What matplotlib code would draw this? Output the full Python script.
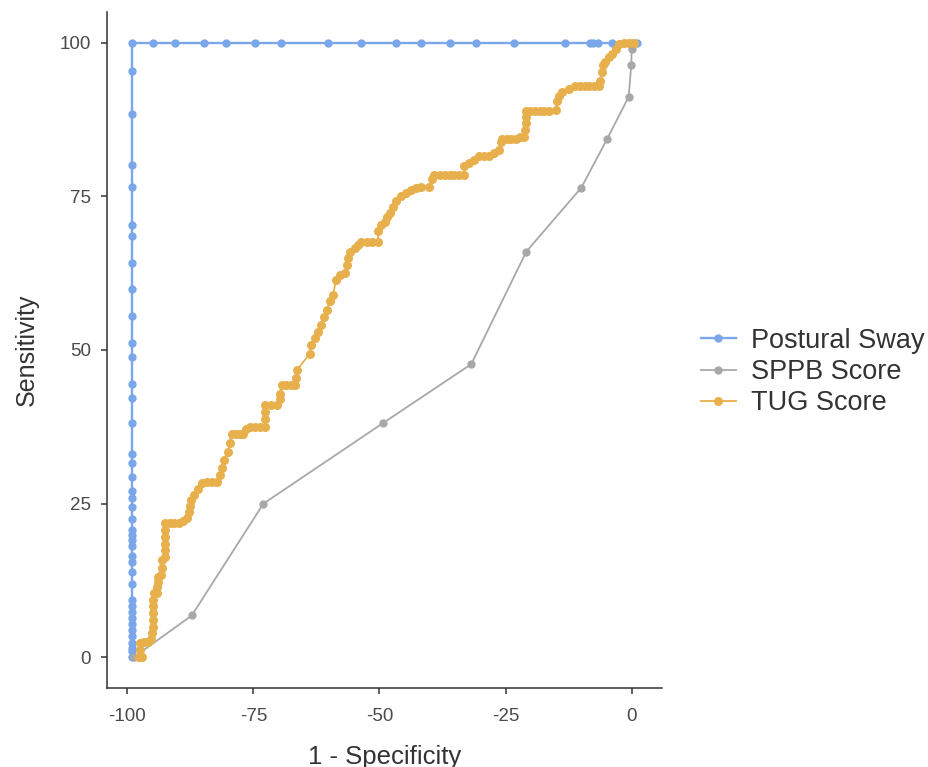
import matplotlib
matplotlib.use('Agg')
import matplotlib.pyplot as plt

# Postural Sway: vertical run at x=-99, then along the top
sway_x = [-99.0] * 41 + [-94.8, -90.5, -84.8, -80.5, -74.7, -69.6, -60.3, -53.6, -46.8,
                         -41.8, -36.0, -30.9, -23.3, -13.3, -8.3, -7.6, -6.6, -4.0, 1.0]
sway_y = [0.0, 1.0, 1.5, 2.4, 3.4, 4.4, 5.4, 6.4, 7.3, 8.3, 9.3, 11.9, 13.8, 15.5, 16.4,
          18.1, 19.1, 19.9, 20.7, 22.5, 24.4, 25.9, 27.0, 29.3, 31.6, 33.1, 38.1, 42.2,
          44.5, 48.9, 51.1, 55.5, 59.9, 64.2, 68.6, 70.4, 76.5, 80.1, 88.4, 95.4, 100.0] + [100.0] * 19

# SPPB Score
sppb_x = [-98.7, -87.2, -73.0, -49.3, -31.8, -20.9, -10.0, -4.9, -0.6, -0.1, 0.0, 0.0]
sppb_y = [0.0, 6.8, 25.0, 38.1, 47.7, 66.0, 76.4, 84.3, 91.2, 96.4, 99.0, 100.0]

# TUG Score
tug_pts = [
    (-97.7, 0.0), (-97.0, 0.0), (-97.4, 1.2), (-97.4, 2.3), (-96.6, 2.5), (-95.8, 2.5),
    (-95.2, 2.9), (-95.0, 3.9), (-94.9, 5.0), (-94.9, 6.1), (-94.8, 7.2), (-94.8, 8.3),
    (-94.8, 9.4), (-94.6, 10.4), (-94.0, 10.4), (-94.0, 11.5), (-93.9, 12.3), (-93.8, 13.1),
    (-93.3, 13.4), (-93.2, 14.6), (-93.1, 15.8), (-92.6, 16.3), (-92.6, 17.4), (-92.5, 18.5),
    (-92.5, 19.6), (-92.5, 20.7), (-92.5, 21.8), (-91.6, 21.8), (-90.7, 21.8), (-89.8, 21.8),
    (-89.0, 22.2), (-88.2, 22.6), (-87.8, 23.6), (-87.5, 24.6), (-87.4, 25.6), (-86.8, 26.4),
    (-86.0, 27.4), (-85.2, 28.3), (-84.2, 28.5), (-83.2, 28.6), (-82.3, 28.6), (-81.6, 29.6),
    (-81.2, 30.8), (-80.9, 32.1), (-80.0, 33.4), (-79.7, 34.9), (-79.3, 36.4), (-78.5, 36.4),
    (-77.7, 36.4), (-77.0, 36.4), (-76.4, 37.2), (-75.7, 37.5), (-74.7, 37.5), (-73.6, 37.5),
    (-72.6, 37.5), (-72.6, 38.7), (-72.6, 39.9), (-72.6, 41.0), (-71.5, 41.0), (-70.4, 41.0),
    (-69.8, 42.0), (-69.7, 42.9), (-69.4, 44.3), (-68.5, 44.3), (-67.6, 44.3), (-66.8, 44.3),
    (-66.5, 45.5), (-66.4, 46.7), (-63.8, 49.4), (-63.5, 50.8), (-62.8, 51.9), (-62.2, 53.0),
    (-61.5, 54.1), (-60.9, 55.4), (-60.4, 56.5), (-59.9, 57.9), (-59.2, 59.0), (-58.6, 61.4),
    (-57.9, 62.2), (-56.9, 62.5), (-56.5, 63.8), (-56.2, 64.9), (-55.9, 66.0), (-54.9, 66.6),
    (-54.3, 67.1), (-53.6, 67.6), (-52.5, 67.6), (-51.4, 67.6), (-50.3, 67.6), (-50.2, 69.4),
    (-49.6, 70.4), (-49.0, 70.9), (-48.5, 71.6), (-48.0, 72.3), (-47.4, 73.3), (-46.7, 74.2),
    (-45.7, 75.0), (-44.7, 75.5), (-43.7, 76.1), (-42.8, 76.3), (-41.8, 76.6), (-40.1, 76.6),
    (-39.5, 77.9), (-39.1, 78.5), (-38.1, 78.5), (-37.1, 78.5), (-36.1, 78.5), (-35.2, 78.5),
    (-34.2, 78.5), (-33.2, 78.5), (-33.2, 79.9), (-32.2, 80.4), (-31.2, 80.9), (-30.2, 81.5),
    (-29.2, 81.5), (-28.3, 81.5), (-27.3, 82.0), (-26.3, 82.6), (-26.0, 83.9), (-25.7, 84.4),
    (-24.8, 84.4), (-23.9, 84.4), (-23.0, 84.4), (-22.2, 84.6), (-21.4, 84.7), (-21.2, 85.8),
    (-21.0, 86.9), (-21.0, 87.9), (-21.0, 88.9), (-20.1, 88.9), (-19.2, 88.9), (-18.2, 88.9),
    (-17.3, 88.9), (-16.4, 88.9), (-15.1, 89.1), (-14.8, 90.5), (-14.4, 91.3), (-13.8, 91.9),
    (-12.5, 92.4), (-11.2, 93.0), (-10.3, 93.0), (-9.3, 93.0), (-8.4, 93.0), (-7.4, 93.0),
    (-6.5, 93.0), (-6.2, 93.8), (-5.9, 95.2), (-5.6, 96.3), (-5.2, 96.8), (-4.6, 97.6),
    (-3.9, 98.2), (-3.2, 99.0), (-2.5, 99.8), (-1.5, 100.0), (-0.5, 100.0), (0.5, 100.0),
]
tug_x = [p[0] for p in tug_pts]
tug_y = [p[1] for p in tug_pts]

x_ticks = [-100, -75, -50, -25, 0]
y_ticks = [0, 25, 50, 75, 100]

plt.rcParams['font.family'] = ['Liberation Sans', 'DejaVu Sans']
plt.rcParams['axes.unicode_minus'] = False

fig = plt.figure(figsize=(9.29, 7.67), dpi=100)
ax = fig.add_axes([0.1152, 0.1030, 0.5974, 0.8814])

ax.plot(sway_x, sway_y, color='#7aa7ea', lw=1.7, marker='o', ms=6, mew=0, label='Postural Sway')
ax.plot(sppb_x, sppb_y, color='#a8a8a8', lw=1.3, marker='o', ms=6, mew=0, label='SPPB Score')
ax.plot(tug_x, tug_y, color='#e8b04c', lw=1.3, marker='o', ms=6.5, mew=0, label='TUG Score')

ax.set_xlim(-104, 6)
ax.set_ylim(-5, 105)
ax.set_xticks(x_ticks)
ax.set_yticks(y_ticks)

for s in ['top', 'right']:
    ax.spines[s].set_visible(False)
for s in ['left', 'bottom']:
    ax.spines[s].set_color('#333333')
    ax.spines[s].set_linewidth(1.1)
ax.tick_params(colors='#333333', labelcolor='#4a4a4a', labelsize=13.5, length=4.5, width=1.1)
ax.tick_params(axis='x', pad=10)
ax.tick_params(axis='y', pad=7)

ax.set_xlabel('1 - Specificity', fontsize=18.5, color='#333333', labelpad=14)
ax.set_ylabel('Sensitivity', fontsize=18, color='#333333', labelpad=15)

leg = fig.legend(loc='center left', bbox_to_anchor=(0.728, 0.515), frameon=False,
                 fontsize=19.5, handlelength=1.3, labelspacing=0.2, handletextpad=0.55)
for t in leg.get_texts():
    t.set_color('#333333')

fig.savefig('out.png', dpi=100)
